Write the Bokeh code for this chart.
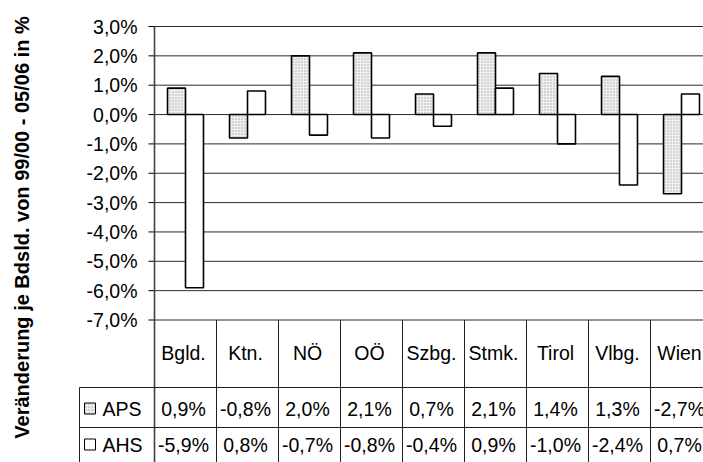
import math
from bokeh.plotting import figure
from bokeh.models import Range1d
from bokeh.core.properties import value
from bokeh.embed import file_html
from bokeh.resources import INLINE

# ---- data ----
categories = ["Bgld.", "Ktn.", "NÖ", "OÖ", "Szbg.", "Stmk.", "Tirol", "Vlbg.", "Wien"]
aps = [0.9, -0.8, 2.0, 2.1, 0.7, 2.1, 1.4, 1.3, -2.7]
ahs = [-5.9, 0.8, -0.7, -0.8, -0.4, 0.9, -1.0, -2.4, 0.7]
series_names = ["APS", "AHS"]
y_ticks = [3, 2, 1, 0, -1, -2, -3, -4, -5, -6, -7]
y_title = "Veränderung je Bdsld. von 99/00 - 05/06 in %"

# ---- layout (pixel -> data helpers) ----
CW = 62.0      # px per category
YS = 29.35     # px per percent
X0 = 154.0     # screen x of category 0 start (y axis)
Y3 = 26.0      # screen y of 3%
W, H = 703, 462
def dx(sx):
    return (sx - X0) / CW
def dy(sy):
    return 3 - (sy - Y3) / YS

FONT = "Liberation Sans"
p = figure(width=W, height=H, output_backend="svg", toolbar_location=None,
           x_range=Range1d(dx(0), dx(W)), y_range=Range1d(dy(H), dy(0)),
           x_axis_location=None, y_axis_location=None, min_border=0)
p.grid.visible = False
p.outline_line_color = None

def fmt(v):
    return ("%.1f%%" % v).replace(".", ",")

n = len(categories)
xr = dx(W + 5)

# gridlines
p.segment(x0=[0] * len(y_ticks), x1=[xr] * len(y_ticks), y0=y_ticks, y1=y_ticks,
          line_color="#2a2a2a", line_width=1)
# tick marks
p.segment(x0=[dx(148)] * len(y_ticks), x1=[0] * len(y_ticks), y0=y_ticks, y1=y_ticks,
          line_color="#000000", line_width=1)
# tick labels
p.text(x=[dx(137)] * len(y_ticks), y=y_ticks, text=[fmt(t) for t in y_ticks],
       text_font=value(FONT), text_font_size="19.5px", text_align="right",
       text_baseline="middle", text_color="#000000")

# bars
idx = list(range(n))
bw = 0.29
p.vbar(x=[i + 0.5 - bw / 2 for i in idx], top=aps, bottom=0, width=bw,
       fill_color="#efefef", hatch_pattern="dot", hatch_scale=3, hatch_color="#aaaaaa",
       hatch_weight=0.8, line_color="#000000", line_width=1.6)
p.vbar(x=[i + 0.5 + bw / 2 for i in idx], top=ahs, bottom=0, width=bw,
       fill_color="#ffffff", line_color="#000000", line_width=1.6)

# y axis line (extends through table)
p.segment(x0=[0], x1=[0], y0=[3], y1=[dy(H + 5)], line_color="#404040", line_width=1.6)

# table
row_aps_top = dy(387)
row_ahs_top = dy(427)
# column separators
p.segment(x0=[i for i in range(1, n + 1)], x1=[i for i in range(1, n + 1)],
          y0=[-7] * n, y1=[dy(H + 5)] * n, line_color="#202020", line_width=1)
# row separators
p.segment(x0=[dx(79)] * 2, x1=[xr] * 2, y0=[row_aps_top, row_ahs_top], y1=[row_aps_top, row_ahs_top],
          line_color="#202020", line_width=1)
p.segment(x0=[dx(79)], x1=[dx(79)], y0=[row_aps_top], y1=[dy(H + 5)], line_color="#202020", line_width=1)

centers = [i + 0.5 - 2.0 / CW for i in idx]
cat_y = dy(352)
aps_y = dy(408)
ahs_y = dy(444)
p.text(x=centers, y=[cat_y] * n, text=categories,
       text_font=value(FONT), text_font_size="19.5px", text_align="center", text_baseline="middle")
p.text(x=centers, y=[aps_y] * n, text=[fmt(v) for v in aps],
       text_font=value(FONT), text_font_size="19.5px", text_align="center", text_baseline="middle")
p.text(x=centers, y=[ahs_y] * n, text=[fmt(v) for v in ahs],
       text_font=value(FONT), text_font_size="19.5px", text_align="center", text_baseline="middle")

# legend keys
ly = [aps_y, ahs_y]
p.scatter(x=[dx(89.5)], y=[ly[0]], marker="square", size=11, fill_color="#efefef",
          hatch_pattern="dot", hatch_scale=3, hatch_color="#aaaaaa", hatch_weight=0.8,
          line_color="#000000", line_width=1)
p.scatter(x=[dx(89.5)], y=[ly[1]], marker="square", size=11, fill_color="#ffffff",
          line_color="#000000", line_width=1)
p.text(x=[dx(102)] * 2, y=ly, text=series_names, text_font=value(FONT), text_font_size="19.5px",
       text_align="left", text_baseline="middle")

# y title
p.text(x=[dx(21)], y=[dy(227)], text=[y_title], angle=math.pi / 2, text_font=value(FONT),
       text_font_size="20px", text_font_style="bold", text_align="center", text_baseline="middle")

open("out.html", "w").write(file_html(p, INLINE))
